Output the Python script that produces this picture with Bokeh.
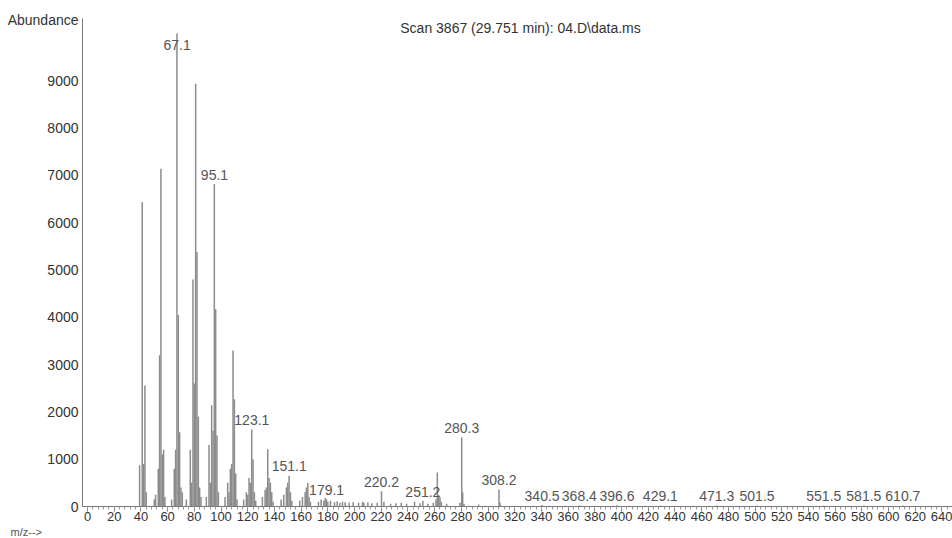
import numpy as np
from bokeh.plotting import figure
from bokeh.models import Range1d, Label, Title, SingleIntervalTicker, FixedTicker, ColumnDataSource
from bokeh.core.properties import value
from bokeh.embed import file_html
from bokeh.resources import INLINE

# ---- data -------------------------------------------------------------
mz = [39, 41, 42, 43, 44,
      50, 51, 53, 54, 55, 56, 57, 58,
      63, 65, 66, 67, 68, 69, 70, 71,
      74, 77, 78, 79, 80, 81, 82, 83, 84, 85,
      89, 91, 92, 93, 94, 95, 96, 97, 98,
      103, 105, 106, 107, 108, 109, 110, 111, 112,
      117, 119, 120, 121, 122, 123, 124, 125, 126,
      131, 133, 134, 135, 136, 137, 138, 139,
      145, 147, 149, 150, 151, 152, 153,
      159, 161, 163, 164, 165, 166, 167,
      173, 175, 177, 178, 179, 180, 182, 185, 187, 189, 191, 193, 196,
      199, 203, 206, 207, 210, 213, 217, 220.2, 222, 227, 231, 235,
      239, 245, 249, 251.2, 255, 259, 261, 262, 263, 264, 265,
      269, 279, 280.3, 281, 282, 293, 308.2, 309,
      340.5, 368.4, 396.6, 429.1, 471.3, 501.5, 551.5, 581.5, 610.7]
abund = [870, 6440, 900, 2560, 300,
         150, 250, 800, 3200, 7140, 1100, 1200, 200,
         150, 800, 1200, 10000, 4050, 1570, 400, 300,
         150, 1200, 500, 4800, 2600, 8940, 5380, 1900, 400, 200,
         200, 1300, 500, 2140, 1600, 6820, 4170, 1500, 300,
         200, 500, 300, 800, 900, 3300, 2270, 700, 150,
         150, 300, 250, 600, 500, 1630, 1000, 300, 120,
         200, 350, 400, 1210, 600, 500, 300, 100,
         150, 250, 400, 500, 650, 300, 120,
         120, 200, 300, 400, 500, 200, 100,
         100, 150, 120, 180, 150, 100, 120, 90, 110, 80, 100, 90, 80,
         90, 80, 100, 80, 90, 70, 80, 320, 100, 60, 70, 80,
         60, 100, 70, 120, 60, 80, 150, 720, 250, 200, 100,
         60, 80, 1460, 300, 60, 40, 360, 80,
         30, 25, 25, 20, 20, 20, 20, 20, 20]

label_mz = [67.1, 95.1, 123.1, 151.1, 179.1, 220.2, 251.2, 280.3, 308.2,
            340.5, 368.4, 396.6, 429.1, 471.3, 501.5, 551.5, 581.5, 610.7]
label_ab = [10000, 6820, 1630, 650, 150, 320, 120, 1460, 360,
            30, 25, 25, 20, 20, 20, 20, 20, 20]
label_txt = ["67.1", "95.1", "123.1", "151.1", "179.1", "220.2", "251.2", "280.3", "308.2",
             "340.5", "368.4", "396.6", "429.1", "471.3", "501.5", "551.5", "581.5", "610.7"]

y_ticks = [0, 1000, 2000, 3000, 4000, 5000, 6000, 7000, 8000, 9000]
y_title_pos = 10275          # where the "Abundance" heading sits on the y scale
title_text = "Scan 3867 (29.751 min): 04.D\\data.ms"

# ---- figure -----------------------------------------------------------
FONT = "Liberation Sans"
p = figure(width=952, height=538, output_backend="svg", toolbar_location=None,
           x_range=Range1d(-3.75, 647.9), y_range=Range1d(0, 10317),
           min_border_left=82, min_border_right=0, min_border_top=18, min_border_bottom=32)
p.outline_line_color = None
p.grid.grid_line_color = None
p.background_fill_color = "white"
p.border_fill_color = "white"

src = ColumnDataSource(dict(x=mz, y0=[0] * len(mz), y1=abund))
p.segment(x0="x", y0="y0", x1="x", y1="y1", source=src, line_color="#8c8c8c", line_width=1.5)

lab_y = np.minimum(np.array(label_ab, dtype=float) + 90, 9660)
lsrc = ColumnDataSource(dict(x=label_mz, y=lab_y, t=label_txt))
p.text(x="x", y="y", text="t", source=lsrc, text_align="center", text_baseline="bottom",
       text_font=value(FONT), text_font_size="14px", text_color="#555555")

# axes
xa = p.xaxis[0]
xa.ticker = SingleIntervalTicker(interval=20, num_minor_ticks=5)
xa.axis_line_color = "#777777"
xa.major_tick_line_color = "#777777"
xa.minor_tick_line_color = "#999999"
xa.major_tick_out = 5
xa.major_tick_in = 0
xa.minor_tick_out = 3
xa.minor_tick_in = 0
xa.major_label_standoff = 0
xa.major_label_text_font = FONT
xa.major_label_text_font_size = "13px"
xa.major_label_text_color = "#333333"

ya = p.yaxis[0]
ya.ticker = FixedTicker(ticks=y_ticks + [y_title_pos])
ya.major_label_overrides = {y_title_pos: "Abundance"}
ya.axis_line_color = "#777777"
ya.major_tick_line_color = "#888888"
ya.minor_tick_line_color = None
ya.major_tick_out = 0
ya.major_tick_in = 0
ya.major_label_standoff = 4
ya.major_label_text_font = FONT
ya.major_label_text_font_size = "14px"
ya.major_label_text_color = "#333333"

p.add_layout(Label(x=438, y=479, x_units="screen", y_units="screen", text=title_text,
                   text_align="center", text_baseline="middle", text_font=FONT,
                   text_font_size="14px", text_color="#333333"))
p.add_layout(Title(text="m/z-->", align="left", offset=-72, standoff=0,
                   text_font=FONT, text_font_size="11px", text_font_style="normal",
                   text_color="#555555"), "below")

open("out.html", "w").write(file_html(p, INLINE))
